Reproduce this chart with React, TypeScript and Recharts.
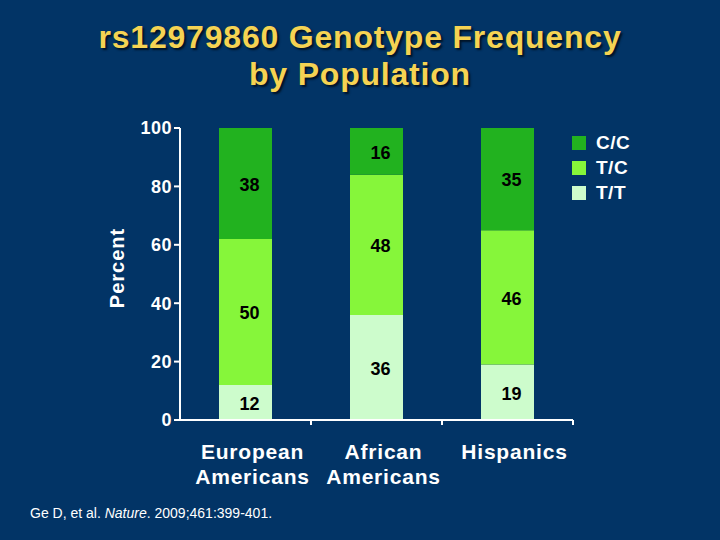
import React from 'react';
import { BarChart, Bar, XAxis, YAxis, LabelList } from 'recharts';

const populations = ['European Americans', 'African Americans', 'Hispanics'];
const ccValues = [38, 16, 35];
const tcValues = [50, 48, 46];
const ttValues = [12, 36, 19];
const yTicks = [0, 20, 40, 60, 80, 100];

const COLORS = {
  bg: '#023466',
  cc: '#22b21f',
  tc: '#86f63a',
  tt: '#cdfccc',
  title: '#f5d353',
};

const data = populations.map((name, i) => ({
  name,
  cc: ccValues[i],
  tc: tcValues[i],
  tt: ttValues[i],
}));

const series = [
  { key: 'cc', label: 'C/C', color: COLORS.cc },
  { key: 'tc', label: 'T/C', color: COLORS.tc },
  { key: 'tt', label: 'T/T', color: COLORS.tt },
];

const FONT = 'Arial, "Liberation Sans", Helvetica, sans-serif';

// category label split over two lines, plus a tick mark at the right edge of each band
const XTick = (props: any) => {
  const { x, y, payload } = props;
  const band = 131;
  const words = String(payload.value).split(' ');
  return (
    <g>
      <line x1={x + band / 2} x2={x + band / 2} y1={y - 8} y2={y - 3} stroke="#fff" strokeWidth={2} />
      <text x={x + 7} y={y + 31} textAnchor="middle" fill="#fff" fontSize={21} fontWeight="bold" fontFamily={FONT} letterSpacing={0.8}>
        {words.map((w, i) => (
          <tspan key={i} x={x + 7} dy={i === 0 ? 0 : 25}>{w}</tspan>
        ))}
      </text>
    </g>
  );
};

export default function App() {
  return (
    <div style={{ position: 'absolute', left: 0, top: 0, width: 720, height: 540, background: COLORS.bg, overflow: 'hidden' }}>
      <div
        style={{
          position: 'absolute', top: 19, left: 0, width: 720, textAlign: 'center',
          color: COLORS.title, fontFamily: FONT, fontWeight: 'bold', fontSize: 32, lineHeight: '37px',
          letterSpacing: 0.8, textShadow: '2px 2px 2px #001326',
        }}
      >
        rs12979860 Genotype Frequency<br />by Population
      </div>
      <div
        style={{
          position: 'absolute', left: 117, top: 268, transform: 'translate(-50%, -50%) rotate(-90deg)',
          color: '#fff', fontFamily: FONT, fontWeight: 'bold', fontSize: 20, letterSpacing: 1, whiteSpace: 'nowrap',
        }}
      >
        Percent
      </div>
      <BarChart
        width={720}
        height={540}
        data={data}
        margin={{ top: 128, right: 147, bottom: 60, left: 120 }}
        barSize={53}
        style={{ position: 'absolute', left: 0, top: 0 }}
      >
        <XAxis
          dataKey="name"
          height={60}
          stroke="#fff"
          strokeWidth={2}
          tickLine={false}
          interval={0}
          tick={<XTick />}
        />
        <YAxis
          width={60}
          domain={[0, 100]}
          ticks={yTicks}
          stroke="#fff"
          strokeWidth={2}
          tickSize={6}
          tick={{ fill: '#fff', fontSize: 18, fontWeight: 'bold', fontFamily: FONT, letterSpacing: 0.5 }}
        />
        {[...series].reverse().map((s) => (
          <Bar key={s.key} dataKey={s.key} stackId="g" fill={s.color} isAnimationActive={false}>
            <LabelList
              dataKey={s.key}
              position="center"
              fill="#000"
              fontSize={18}
              fontWeight="bold"
              fontFamily={FONT}
              dx={4}
              dy={1}
            />
          </Bar>
        ))}
      </BarChart>
      <div style={{ position: 'absolute', top: 130, left: 572, fontFamily: FONT }}>
        {series.map((s) => (
          <div key={s.key} style={{ display: 'flex', alignItems: 'center', height: 25 }}>
            <span style={{ width: 14, height: 14, background: s.color, display: 'inline-block', marginRight: 10 }} />
            <span style={{ color: '#fff', fontSize: 19, fontWeight: 'bold', letterSpacing: 0.5 }}>{s.label}</span>
          </div>
        ))}
      </div>
      <div
        style={{
          position: 'absolute', left: 30, top: 505, color: '#fff', fontFamily: FONT, fontSize: 14,
        }}
      >
        Ge D, et al. <i>Nature</i>. 2009;461:399-401.
      </div>
    </div>
  );
}
